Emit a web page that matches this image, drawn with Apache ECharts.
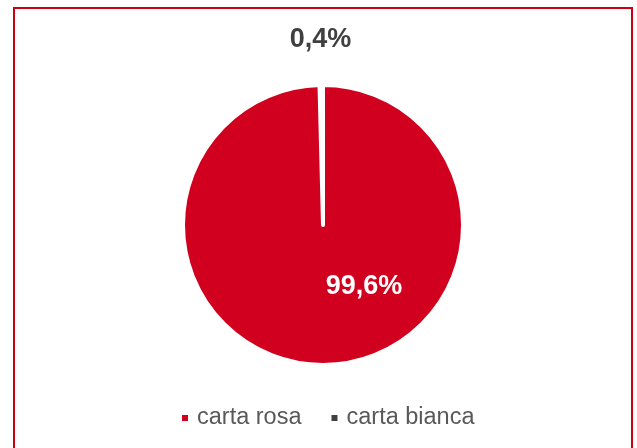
<!DOCTYPE html>
<html>
<head>
<meta charset="utf-8">
<script src="https://cdn.jsdelivr.net/npm/echarts@6/dist/echarts.min.js"></script>
<style>
html,body{margin:0;padding:0;background:#fff;}
#chart{width:637px;height:448px;}
</style>
</head>
<body>
<div id="chart"></div>
<script>
const categories = ['carta rosa', 'carta bianca'];
const values = [99.6, 0.4];
const sliceColors = ['#D2001F', '#FFFFFF'];
const legendColors = ['#D2001F', '#404040'];

const chart = echarts.init(document.getElementById('chart'), null, {renderer: 'canvas'});
const fmt = v => v.toFixed(1).replace('.', ',') + '%';

chart.setOption({
  backgroundColor: '#fff',
  animation: false,
  graphic: [{
    type: 'rect',
    shape: {x: 14, y: 8, width: 618, height: 460},
    style: {fill: 'none', stroke: '#CC0010', lineWidth: 2},
    silent: true, z: -1
  }],
  legend: {
    top: 401,
    left: 177,
    icon: 'rect',
    itemWidth: 6,
    itemHeight: 6,
    itemGap: 30,
    itemStyle: {borderWidth: 0},
    textStyle: {fontFamily: 'Liberation Sans, Arial, sans-serif', fontSize: 23.5, color: '#595959', padding: [0,0,0,4]},
    data: categories.map((c, i) => ({name: c, itemStyle: {color: legendColors[i], borderWidth: 0}}))
  },
  series: [{
    type: 'pie',
    center: [323, 225],
    radius: 140,
    startAngle: 90,
    clockwise: true,
    avoidLabelOverlap: false,
    data: categories.map((c, i) => ({
      name: c,
      value: values[i],
      itemStyle: {color: sliceColors[i], borderColor: '#fff', borderWidth: i === 0 ? 4 : 0},
      label: {
        show: true,
        position: i === 0 ? 'inside' : 'outside',
        color: i === 0 ? '#FFFFFF' : '#404040'
      },
      labelLine: {show: false}
    })),
    label: {
      formatter: p => fmt(p.value),
      fontFamily: 'Liberation Sans, Arial, sans-serif',
      fontWeight: 'bold',
      fontSize: 27
    },
    labelLayout: function (p) {
      if (p.dataIndex === 0) return {x: 364, y: 287, align: 'center', verticalAlign: 'middle'};
      return {x: 320.5, y: 40, align: 'center', verticalAlign: 'middle'};
    },
    emphasis: {disabled: true}
  }]
});
</script>
</body>
</html>
